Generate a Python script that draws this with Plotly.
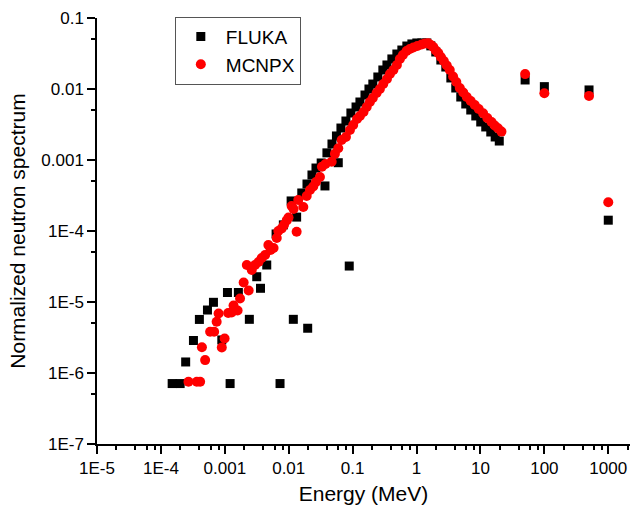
import plotly.graph_objects as go

# ---- data ----
fluka_energy = [1.5e-4, 2.0e-4, 2.44e-4, 3.23e-4, 4.0e-4, 5.35e-4, 6.64e-4, 8.97e-4, 1.10e-3, 1.21e-3,
                1.63e-3, 2.42e-3, 3.16e-3, 3.62e-3, 4.53e-3, 6.34e-3, 7.31e-3, 8.24e-3, 1.09e-2, 1.18e-2,
                1.33e-2, 1.60e-2, 1.93e-2, 1.98e-2, 2.31e-2, 2.67e-2, 3.22e-2, 3.69e-2, 3.96e-2, 4.75e-2,
                5.58e-2, 5.96e-2, 6.56e-2, 7.85e-2, 8.85e-2, 9.39e-2, 0.113, 0.130, 0.156, 0.180,
                0.207, 0.248, 0.297, 0.344, 0.411, 0.492, 0.589, 0.705, 0.845, 1.01,
                1.21, 1.45, 1.67, 2.00, 2.40, 2.87, 3.44, 4.11, 4.92, 5.89,
                7.05, 8.45, 10.1, 12.1, 14.5, 17.0, 19.7, 50, 100, 500, 1000]
fluka_flux = [7.1e-7, 7.1e-7, 1.43e-6, 2.87e-6, 5.68e-6, 7.71e-6, 9.9e-6, 2.92e-6, 1.36e-5, 7.1e-7,
              1.36e-5, 5.70e-6, 2.27e-5, 1.56e-5, 3.32e-5, 9.08e-5, 7.1e-7, 1.22e-4, 2.65e-4, 5.70e-6,
              1.57e-4, 3.43e-4, 4.59e-4, 4.27e-6, 6.15e-4, 7.71e-4, 9.08e-4, 4.31e-4, 1.26e-3, 1.68e-3,
              2.18e-3, 9.16e-4, 2.82e-3, 3.54e-3, 3.21e-5, 4.59e-3, 5.58e-3, 6.56e-3, 8.23e-3, 0.0100,
              0.01175, 0.01476, 0.01853, 0.0218, 0.0265, 0.0311, 0.0354, 0.0403, 0.0431, 0.0445,
              0.0445, 0.0445, 0.0405, 0.0332, 0.0256, 0.0204, 0.0143, 0.01033, 7.71e-3, 6.15e-3,
              5.06e-3, 4.17e-3, 3.43e-3, 2.92e-3, 2.48e-3, 2.11e-3, 1.85e-3, 0.0134, 0.0108, 0.0097, 1.42e-4]

mcnpx_energy = [2.70e-4, 3.65e-4, 4.11e-4, 4.38e-4, 4.92e-4, 5.89e-4, 6.81e-4, 7.45e-4, 8.0e-4, 8.97e-4,
                9.93e-4, 1.13e-3, 1.28e-3, 1.37e-3, 1.585e-3, 1.73e-3, 1.97e-3, 2.21e-3, 2.36e-3, 2.64e-3,
                2.97e-3, 3.37e-3, 3.78e-3, 4.27e-3, 4.80e-3, 5.20e-3, 5.79e-3, 6.49e-3, 6.88e-3, 7.78e-3,
                8.45e-3, 9.31e-3, 9.93e-3, 1.11e-2, 1.19e-2, 1.33e-2, 1.41e-2, 1.69e-2, 1.91e-2, 2.15e-2,
                2.42e-2, 2.67e-2, 3.08e-2, 3.31e-2, 3.76e-2, 4.70e-2, 5.28e-2, 5.96e-2, 6.73e-2, 7.85e-2,
                9.08e-2, 0.102, 0.117, 0.130, 0.148, 0.166, 0.186, 0.207, 0.237, 0.267,
                0.301, 0.344, 0.383, 0.434, 0.492, 0.548, 0.611, 0.698, 0.785, 0.891,
                1.03, 1.20, 1.35, 1.52, 1.67, 1.83, 2.00, 2.19, 2.40, 2.67,
                2.97, 3.31, 3.73, 4.19, 4.75, 5.38, 6.11, 7.05, 8.15, 9.40,
                11.0, 12.8, 14.9, 16.7, 18.8, 21.3, 50, 100, 500, 1000]
mcnpx_flux = [7.54e-7, 7.54e-7, 7.54e-7, 2.30e-6, 1.52e-6, 3.82e-6, 3.82e-6, 5.28e-6, 6.89e-6, 2.29e-6,
              3.06e-6, 7.0e-6, 7.11e-6, 8.93e-6, 7.59e-6, 1.12e-5, 1.88e-5, 3.32e-5, 1.45e-5, 2.82e-5,
              3.32e-5, 3.66e-5, 4.17e-5, 4.59e-5, 6.35e-5, 5.40e-5, 5.77e-5, 7.96e-5, 1.0e-4, 1.09e-4,
              1.22e-4, 1.41e-4, 1.55e-4, 2.25e-4, 2.04e-4, 9.77e-5, 2.73e-4, 2.18e-4, 3.11e-4, 3.78e-4,
              4.24e-4, 4.90e-4, 5.77e-4, 8.05e-4, 8.79e-4, 9.46e-4, 1.22e-3, 1.46e-3, 1.91e-3, 2.11e-3,
              2.65e-3, 3.11e-3, 3.78e-3, 4.17e-3, 4.74e-3, 5.58e-3, 6.56e-3, 7.46e-3, 8.79e-3, 0.0100,
              0.01175, 0.01384, 0.01626, 0.01853, 0.0218, 0.0265, 0.0301, 0.0343, 0.0366, 0.0384,
              0.0403, 0.0424, 0.0438, 0.0440, 0.0417, 0.0391, 0.0348, 0.0321, 0.0282, 0.0248,
              0.0214, 0.0185, 0.0150, 0.01256, 0.01033, 8.93e-3, 7.71e-3, 6.78e-3, 5.96e-3, 5.23e-3,
              4.55e-3, 3.91e-3, 3.43e-3, 3.06e-3, 2.80e-3, 2.51e-3, 0.0162, 0.0087, 0.0080, 2.54e-4]

x_tickvals = [1e-5, 1e-4, 1e-3, 1e-2, 1e-1, 1, 10, 100, 1000]
x_ticktext = ["1E-5", "1E-4", "0.001", "0.01", "0.1", "1", "10", "100", "1000"]
y_tickvals = [1e-7, 1e-6, 1e-5, 1e-4, 1e-3, 1e-2, 1e-1]
y_ticktext = ["1E-7", "1E-6", "1E-5", "1E-4", "0.001", "0.01", "0.1"]

FONT = "Liberation Sans, Arial, sans-serif"

x_minor = [m * 10.0 ** k for k in range(-5, 4) for m in (2, 4, 6, 8)]
y_minor = [5 * 10.0 ** k for k in range(-8, -1)]

fig = go.Figure()
fig.add_trace(go.Scatter(x=fluka_energy, y=fluka_flux, mode="markers", name="FLUKA",
                         marker=dict(symbol="square", size=9, color="#000000", line=dict(width=0))))
fig.add_trace(go.Scatter(x=mcnpx_energy, y=mcnpx_flux, mode="markers", name="MCNPX",
                         marker=dict(symbol="circle", size=10, color="#ff0000", line=dict(width=0))))

axis_common = dict(showgrid=False, zeroline=False, showline=True, linecolor="black", linewidth=1.5,
                   ticks="outside", ticklen=8, tickwidth=1.5, tickcolor="black",
                   tickfont=dict(family=FONT, size=17, color="black"))

fig.update_xaxes(type="log", range=[-5, 3.34], tickmode="array", tickvals=x_tickvals, ticktext=x_ticktext,
                 title=dict(text="Energy (MeV)", font=dict(family=FONT, size=21, color="black"), standoff=9),
                 minor=dict(tickmode="array", tickvals=x_minor, ticks="outside", ticklen=4, tickwidth=1.5,
                            tickcolor="black", showgrid=False),
                 **axis_common)
fig.update_yaxes(type="log", range=[-7, -1], tickmode="array", tickvals=y_tickvals, ticktext=y_ticktext,
                 title=dict(text="Normalized neutron spectrum", font=dict(family=FONT, size=21, color="black"), standoff=10),
                 minor=dict(tickmode="array", tickvals=y_minor, ticks="outside", ticklen=4, tickwidth=1.5,
                            tickcolor="black", showgrid=False),
                 **axis_common)

fig.update_layout(
    width=632, height=513,
    margin=dict(l=97, r=2, t=18, b=69),
    paper_bgcolor="white", plot_bgcolor="white",
    font=dict(family=FONT, color="black"),
    legend=dict(x=0.146, y=1.003, xanchor="left", yanchor="top",
                bordercolor="#555555", borderwidth=1, bgcolor="white",
                font=dict(family=FONT, size=19, color="black"), itemwidth=40, tracegroupgap=0),
)

fig.write_html("out.html", config={"displayModeBar": False},
               post_script="document.body.style.margin='0';")
